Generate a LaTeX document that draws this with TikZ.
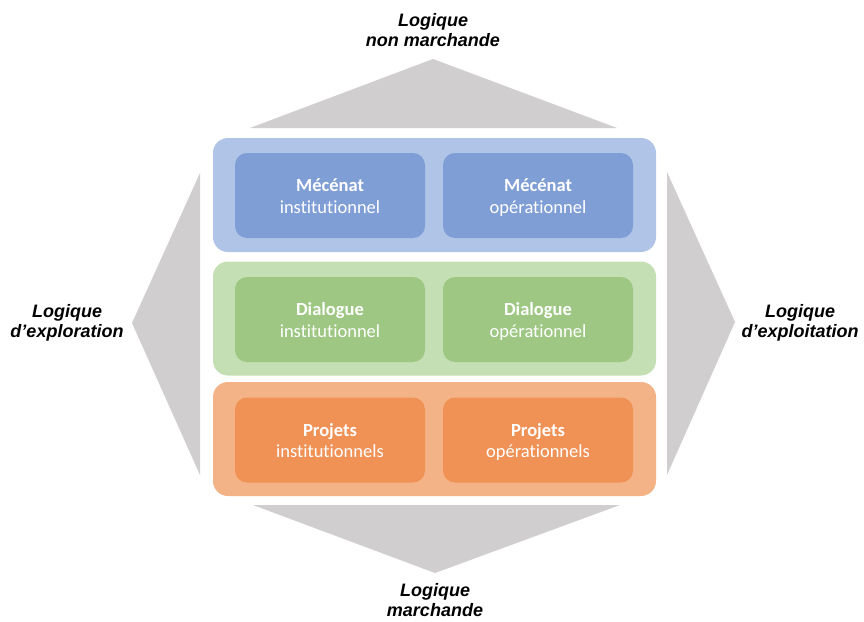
\documentclass[tikz,border=0pt]{standalone}
\usepackage{fontspec}
\setmainfont{Carlito}[Ligatures=NoCommon]
\newfontfamily\labelfont{Liberation Sans}
\definecolor{trigray}{HTML}{D0CECE}
\definecolor{blueout}{HTML}{AFC4E6}
\definecolor{bluein}{HTML}{7F9ED6}
\definecolor{greenout}{HTML}{C4DFB3}
\definecolor{greenin}{HTML}{9DC783}
\definecolor{orangeout}{HTML}{F4B387}
\definecolor{orangein}{HTML}{F09156}
\newcommand{\twoline}[2]{\textbf{#1}\rule[-6.45pt]{0pt}{26.5pt}\\#2\strut}
\tikzset{
  tri/.style={fill=trigray, draw=none},
  outerbox/.style={draw=none, rounded corners=15pt, minimum width=443pt, minimum height=114pt, inner sep=0pt},
  innerbox/.style={draw=none, rounded corners=12pt, minimum width=190pt, minimum height=85pt, inner sep=0pt,
    text=white, align=center, font=\fontsize{18.5}{21.5}\selectfont},
  logic/.style={anchor=north, inner sep=0pt, align=center,
    font=\labelfont\bfseries\itshape\fontsize{18}{20.5}\selectfont},
}
\begin{document}
\begin{tikzpicture}[x=1pt,y=-1pt]
\useasboundingbox[fill=white] (0,0) rectangle (864,621);
% gray triangles
\fill[tri] (250,128) -- (617,128) -- (433,59) -- cycle;
\fill[tri] (200,173) -- (200,475) -- (132,323) -- cycle;
\fill[tri] (667,172) -- (667,475) -- (735,322) -- cycle;
\fill[tri] (253,505) -- (620,505) -- (435,573) -- cycle;
% outer boxes
\node[outerbox, fill=blueout]   (mec) at (434.5,195) {};
\node[outerbox, fill=greenout]  (dia) at (434.5,318.5) {};
\node[outerbox, fill=orangeout] (pro) at (434.5,439) {};
% inner boxes
\node[innerbox, fill=bluein] (mecI) at (330,195.5) {\twoline{Mécénat}{institutionnel}};
\node[innerbox, fill=bluein] (mecO) at (538,195.5) {\twoline{Mécénat}{opérationnel}};
\node[innerbox, fill=greenin] (diaI) at (330,319.5) {\twoline{Dialogue}{institutionnel}};
\node[innerbox, fill=greenin] (diaO) at (538,319.5) {\twoline{Dialogue}{opérationnel}};
\node[innerbox, fill=orangein] (proI) at (330,440) {\twoline{Projets}{institutionnels}};
\node[innerbox, fill=orangein] (proO) at (538,440) {\twoline{Projets}{opérationnels}};
% labels
\node[logic] (top) at (433,13) {Logique\\non marchande};
\node[logic] (left) at (67,304) {Logique\\d’exploration};
\node[logic] (right) at (800,304) {Logique\\d’exploitation};
\node[logic] (bottom) at (435,583) {Logique\\marchande};
\end{tikzpicture}
\end{document}
